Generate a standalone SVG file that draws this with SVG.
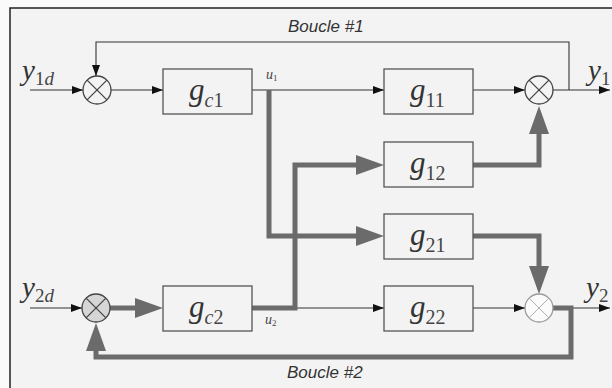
<svg xmlns="http://www.w3.org/2000/svg" width="612" height="388" viewBox="0 0 612 388">
<style>
.box{fill:none;stroke:#555;stroke-width:1.3}
.thin{fill:none;stroke:#333;stroke-width:1.1}
.thick{fill:none;stroke:#6b6b6b;stroke-width:5;stroke-linejoin:miter}
.sum{fill:none;stroke:#444;stroke-width:1.3}
.gl{font-family:"Liberation Serif",serif;font-style:italic;font-size:31px;fill:#333}
.sb{font-family:"Liberation Serif",serif;font-size:20px;fill:#444}
.yl{font-family:"Liberation Serif",serif;font-style:italic;font-size:29px;fill:#333}
.ys{font-family:"Liberation Serif",serif;font-size:19px;fill:#444}
.ul{font-family:"Liberation Serif",serif;font-style:italic;font-size:14px;fill:#444}
.us{font-family:"Liberation Serif",serif;font-size:9px;fill:#444}
.bl{font-family:"Liberation Sans",Arial,sans-serif;font-style:italic;font-size:17px;fill:#333}
</style>
<defs>
<marker id="a" viewBox="0 0 11 8" refX="11" refY="4" markerWidth="11" markerHeight="8" markerUnits="userSpaceOnUse" orient="auto"><path d="M0,0 L11,4 L0,8 z" fill="#111"/></marker>
<marker id="A" viewBox="0 0 28 20" refX="0" refY="10" markerWidth="28" markerHeight="20" markerUnits="userSpaceOnUse" orient="auto"><path d="M0,0 L28,10 L0,20 z" fill="#6b6b6b"/></marker>
</defs>
<rect x="0" y="0" width="612" height="388" fill="#fafafa"/>
<rect x="10" y="8" width="610" height="390" fill="#f3f3f3" stroke="#222" stroke-width="1.5"/>

<g id="connectors">
<path class="thin" d="M30,90 H83" marker-end="url(#a)"/>
<path class="thin" d="M111,90 H163" marker-end="url(#a)"/>
<path class="thin" d="M252,90 H384" marker-end="url(#a)"/>
<path class="thin" d="M473,90 H525" marker-end="url(#a)"/>
<path class="thin" d="M553,90 H610" marker-end="url(#a)"/>
<path class="thin" d="M569,90 V42 H96 V76" marker-end="url(#a)"/>
<path class="thin" d="M30,308 H82" marker-end="url(#a)"/>
<path class="thin" d="M295,308 H384" marker-end="url(#a)"/>
<path class="thin" d="M473,308 H525" marker-end="url(#a)"/>
<path class="thin" d="M553,308 H610" marker-end="url(#a)"/>
<path class="thick" d="M110,308 H135" marker-end="url(#A)"/>
<path class="thick" d="M252,308 H295 V165 H356" marker-end="url(#A)"/>
<path class="thick" d="M269,90 V236 H356" marker-end="url(#A)"/>
<path class="thick" d="M473,165 H539 V134" marker-end="url(#A)"/>
<path class="thick" d="M473,236 H539 V266" marker-end="url(#A)"/>
<path class="thick" d="M553,308 H571 V357 H96 V351" marker-end="url(#A)"/>
</g>

<g id="sum1"><circle class="sum" cx="97" cy="90" r="14" fill="#f3f3f3"/><path class="sum" d="M87.1,80.1 L106.9,99.9 M87.1,99.9 L106.9,80.1"/></g>
<g id="sum2"><circle class="sum" cx="539" cy="90" r="14"/><path class="sum" d="M529.1,80.1 L548.9,99.9 M529.1,99.9 L548.9,80.1"/></g>
<g id="sum3"><circle cx="96" cy="308" r="14" fill="#d6d6d6" stroke="#444" stroke-width="1.3"/><path class="sum" d="M86.1,298.1 L105.9,317.9 M86.1,317.9 L105.9,298.1"/></g>
<g id="sum4"><circle cx="539" cy="308" r="14" fill="#fbfbfb" stroke="#9a9a9a" stroke-width="1.3"/><path d="M529.1,298.1 L548.9,317.9 M529.1,317.9 L548.9,298.1" stroke="#b0b0b0" stroke-width="1"/></g>

<g id="gc1"><rect class="box" x="163" y="69" width="89" height="45"/><text x="189" y="100"><tspan class="gl">g</tspan><tspan class="sb" font-style="italic" dy="7">c</tspan><tspan class="sb">1</tspan></text></g>
<g id="g11"><rect class="box" x="384" y="69" width="89" height="45"/><text x="410" y="100"><tspan class="gl">g</tspan><tspan class="sb" dy="7">11</tspan></text></g>
<g id="g12"><rect class="box" x="384" y="142" width="89" height="45"/><text x="410" y="173"><tspan class="gl">g</tspan><tspan class="sb" dy="7">12</tspan></text></g>
<g id="g21"><rect class="box" x="384" y="214" width="89" height="45"/><text x="410" y="245"><tspan class="gl">g</tspan><tspan class="sb" dy="7">21</tspan></text></g>
<g id="g22"><rect class="box" x="384" y="286" width="89" height="45"/><text x="410" y="317"><tspan class="gl">g</tspan><tspan class="sb" dy="7">22</tspan></text></g>
<g id="gc2"><rect class="box" x="163" y="286" width="89" height="45"/><text x="189" y="317"><tspan class="gl">g</tspan><tspan class="sb" font-style="italic" dy="7">c</tspan><tspan class="sb">2</tspan></text></g>

<g id="labels">
<text x="22" y="80"><tspan class="yl">y</tspan><tspan class="ys" dy="5">1</tspan><tspan class="ys" font-style="italic">d</tspan></text>
<text x="22" y="297"><tspan class="yl">y</tspan><tspan class="ys" dy="5">2</tspan><tspan class="ys" font-style="italic">d</tspan></text>
<text x="588" y="80"><tspan class="yl">y</tspan><tspan class="ys" dy="5">1</tspan></text>
<text x="586" y="297"><tspan class="yl">y</tspan><tspan class="ys" dy="5">2</tspan></text>
<text x="266" y="79"><tspan class="ul">u</tspan><tspan class="us" dy="2">1</tspan></text>
<text x="265" y="324"><tspan class="ul">u</tspan><tspan class="us" dy="2">2</tspan></text>
<text class="bl" x="288" y="32">Boucle #1</text>
<text class="bl" x="287" y="378">Boucle #2</text>
</g>
</svg>
